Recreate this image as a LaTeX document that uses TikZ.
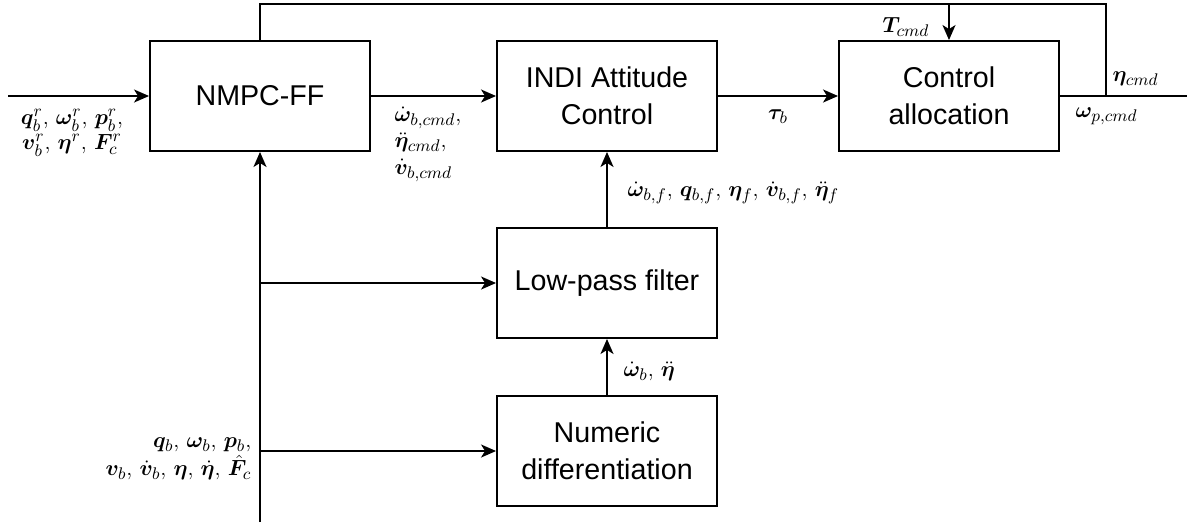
\RequirePackage{fix-cm}
\documentclass[tikz,border=0pt]{standalone}
\usepackage{amsmath}
\usepackage{bm}
\usepackage{fontspec}
\newfontfamily\boxfont{Liberation Sans}
\DeclareMathSizes{12.5}{12.5}{9.6}{7.5}
\usetikzlibrary{arrows.meta, positioning, calc}

\begin{document}
\begin{tikzpicture}[x=0.02cm, y=-0.02cm, line width=1.1pt,
        block/.style={draw, rectangle, minimum width=4.4cm, minimum height=2.2cm,
            align=center, font=\boxfont\fontsize{16.3}{21}\selectfont},
        sig/.style={inner sep=1pt, font=\fontsize{12.5}{15}\selectfont},
        flow/.style={-{Stealth[length=0.3cm, width=0.26cm, inset=0.08cm]}}]

            \useasboundingbox (0,0) rectangle (1187,522);

            % blocks
            \node[block] (nmpc) at (260,96) {NMPC-FF};
            \node[block] (indi) at (607,96) {INDI Attitude\\Control};
            \node[block] (alloc) at (949,96) {Control\\allocation};
            \node[block] (lpf) at (607,283) {Low-pass filter};
            \node[block] (diff) at (607,451) {Numeric\\differentiation};

            % free ends
            \coordinate (in) at (8,96);
            \coordinate (out) at (1187,96);
            \coordinate (meas) at (260,522);
            \coordinate (topL) at (260,4);
            \coordinate (topT) at (949,4);
            \coordinate (topR) at (1106,4);
            \coordinate (loopR) at (1106,96);

            \draw[flow] (in) -- (nmpc.west);
            \draw[flow] (nmpc) -- (indi);
            \draw[flow] (indi) -- (alloc);
            \draw (alloc) -- (out);
            \draw (nmpc.north) -- (topL) -- (topR) -- (loopR);
            \draw[flow] (topT) -- (alloc.north);
            \draw[flow] (meas) -- (nmpc.south);
            \draw[flow] (meas |- lpf) -- (lpf.west);
            \draw[flow] (meas |- diff) -- (diff.west);
            \draw[flow] (diff) -- (lpf);
            \draw[flow] (lpf) -- (indi);

            % signal labels
            \node[sig, align=center, font=\fontsize{12.5}{14}\selectfont] (ref) at (72,133)
                {$\bm{q}_b^r$, $\bm{\omega}_b^r$, $\bm{p}_b^r$,\\
                 $\bm{v}_b^r$, $\bm{\eta}^r$, $\bm{F}_c^r$};
            \node[sig, align=left, anchor=west,
                  font=\fontsize{12.5}{15}\selectfont] (cmd) at (392,144)
                {$\dot{\bm{\omega}}_{b,cmd}$,\\
                 $\ddot{\bm{\eta}}_{cmd}$,\\
                 $\dot{\bm{v}}_{b,cmd}$};
            \node[sig] (tau) at (778,117) {$\bm{\tau}_b$};
            \node[sig] (thrust) at (906,27) {$\bm{T}_{cmd}$};
            \node[sig, anchor=west] (tilt) at (1110,79) {$\bm{\eta}_{cmd}$};
            \node[sig, anchor=west] (rotor) at (1073,116) {$\bm{\omega}_{p,cmd}$};
            \node[sig, anchor=west] (filt) at (625,193)
                {$\dot{\bm{\omega}}_{b,f}$, $\bm{q}_{b,f}$, $\bm{\eta}_f$,
                 $\dot{\bm{v}}_{b,f}$, $\ddot{\bm{\eta}}_f$};
            \node[sig, anchor=west] (deriv) at (621,371)
                {$\dot{\bm{\omega}}_b$, $\ddot{\bm{\eta}}$};
            \node[sig, align=right, anchor=east, font=\fontsize{12.5}{16}\selectfont] (state) at (254,459)
                {$\bm{q}_b$, $\bm{\omega}_b$, $\bm{p}_b$,\\
                 $\bm{v}_b$, $\dot{\bm{v}}_b$, $\bm{\eta}$, $\dot{\bm{\eta}}$, $\hat{\bm{F}}_c$};

        \end{tikzpicture}
\end{document}
